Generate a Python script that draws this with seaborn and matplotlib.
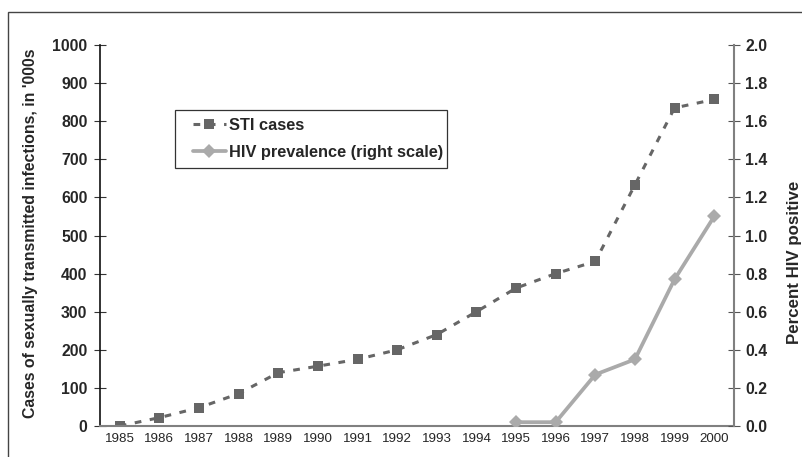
import matplotlib

matplotlib.use("Agg")
import matplotlib.pyplot as plt
import numpy as np
import pandas as pd
import seaborn as sns
from matplotlib.patches import Rectangle

years = [str(y) for y in range(1985, 2001)]
sti_cases = [0, 22, 48, 85, 140, 157, 175, 200, 240, 300, 362, 400, 432, 633, 835, 857]
hiv_years = ["1995", "1996", "1997", "1998", "1999", "2000"]
hiv_prev = [0.02, 0.02, 0.27, 0.35, 0.77, 1.10]
left_ticks = list(range(0, 1001, 100))
right_ticks = [0.0, 0.2, 0.4, 0.6, 0.8, 1.0, 1.2, 1.4, 1.6, 1.8, 2.0]

sns.set_style("white")
plt.rcParams["font.family"] = ["Liberation Sans", "DejaVu Sans"]

pos = {y: i for i, y in enumerate(years)}
sti_df = pd.DataFrame({"x": [pos[y] for y in years], "v": sti_cases})
hiv_df = pd.DataFrame({"x": [pos[y] for y in hiv_years], "v": hiv_prev})

W, H = 803, 457
fig = plt.figure(figsize=(W / 100, H / 100), dpi=100)
ax = fig.add_axes([100 / W, (H - 426) / H, 634 / W, (426 - 45) / H])
ax2 = ax.twinx()

# STI cases on the left scale, dashed dark grey
sns.lineplot(data=sti_df, x="x", y="v", ax=ax, color="#666666", lw=2.2,
             marker="s", markersize=7, markeredgewidth=0, legend=False)
ax.lines[-1].set_dashes((2.2, 2.8))
# HIV prevalence on the right scale, solid light grey
sns.lineplot(data=hiv_df, x="x", y="v", ax=ax2, color="#aaaaaa", lw=2.7,
             marker="D", markersize=7.5, markeredgewidth=0, legend=False)

n = len(years)
for a in (ax, ax2):
    a.set_xlim(-0.5, n - 0.5)
    a.set_facecolor("none")
    for s in a.spines.values():
        s.set_visible(False)

ax.set_ylim(0, 1000)
ax2.set_ylim(0, 2.0)
ax.set_yticks(left_ticks)
ax.set_yticklabels([str(t) for t in left_ticks], fontweight="bold", fontsize=11.4)
ax2.set_yticks(right_ticks)
ax2.set_yticklabels([f"{t:.1f}" for t in right_ticks], fontweight="bold", fontsize=11.4)

ax.set_xticks(range(n))
ax.set_xticklabels(years, fontsize=9.6)
ax.set_xticks(np.arange(-0.5, n, 1.0), minor=True)
ax.tick_params(axis="x", which="major", length=0, pad=5)
ax.tick_params(axis="x", which="minor", direction="inout", length=8, color="#333333")
ax.tick_params(axis="y", direction="inout", length=8, color="#333333", pad=5)
ax2.tick_params(axis="y", direction="inout", length=8, color="#555555", pad=4)

ax.spines["left"].set_visible(True)
ax.spines["left"].set_color("#111111")
ax.spines["left"].set_linewidth(1.2)
ax.spines["bottom"].set_visible(True)
ax.spines["bottom"].set_color("#808080")
ax.spines["bottom"].set_linewidth(1.5)
ax2.spines["right"].set_visible(True)
ax2.spines["right"].set_color("#808080")
ax2.spines["right"].set_linewidth(1.5)

ax.set_xlabel("")
ax.set_ylabel("")
ax2.set_ylabel("")

fig.text(31 / W, 1 - 233 / H, "Cases of sexually transmitted infections, in '000s",
         rotation=90, ha="center", va="center", fontweight="bold", fontsize=11.4)
fig.text(795 / W, 1 - 262 / H, "Percent HIV positive",
         rotation=90, ha="center", va="center", fontweight="bold", fontsize=12.2)

handles = ax.get_lines()[:1] + ax2.get_lines()[:1]
leg = fig.legend(handles, ["STI cases", "HIV prevalence (right scale)"],
                 loc="upper left", bbox_to_anchor=(193 / W, 1 - 118 / H),
                 borderaxespad=0, borderpad=0, frameon=False,
                 prop={"weight": "bold", "size": 11.8}, handlelength=2.0,
                 labelspacing=0.74, handletextpad=0.2)
fig.patches.append(Rectangle((175 / W, 1 - 168 / H), 272 / W, 58 / H,
                             transform=fig.transFigure, fill=False,
                             edgecolor="#333333", lw=0.9))

# outer frame of the exhibit, running off the right and bottom edges
fig.patches.append(Rectangle((8 / W, -0.1), 1.0, 1 - 12 / H + 0.1,
                             transform=fig.transFigure, fill=False,
                             edgecolor="#444444", lw=1.0))

fig.savefig("out.png", dpi=100)
